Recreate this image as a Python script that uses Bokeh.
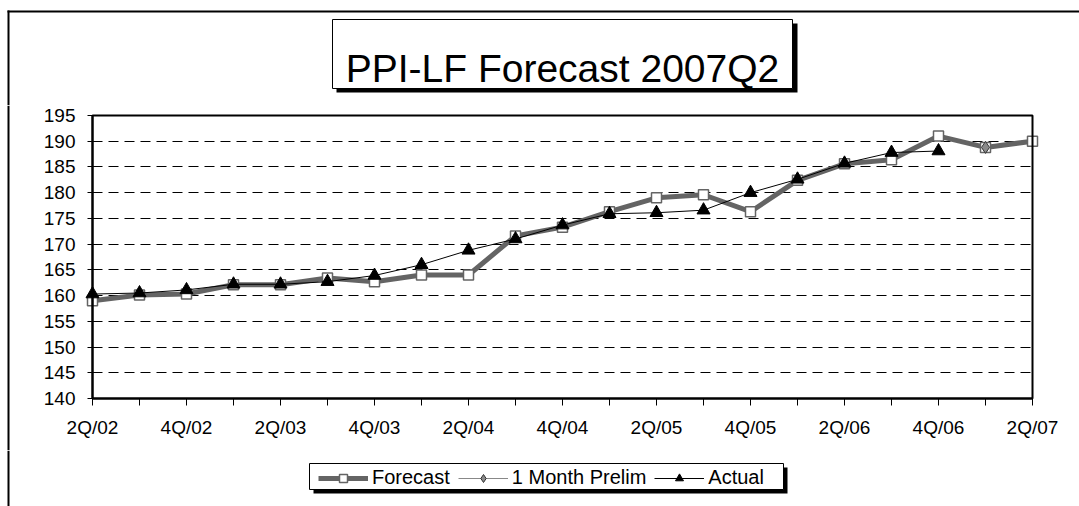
from bokeh.plotting import figure
from bokeh.layouts import column
from bokeh.models import (FixedTicker, Legend, LegendItem, BoxAnnotation, Label, Range1d)
from bokeh.embed import file_html
from bokeh.resources import INLINE

quarters = ["2Q/02", "3Q/02", "4Q/02", "1Q/03", "2Q/03", "3Q/03", "4Q/03",
            "1Q/04", "2Q/04", "3Q/04", "4Q/04", "1Q/05", "2Q/05", "3Q/05",
            "4Q/05", "1Q/06", "2Q/06", "3Q/06", "4Q/06", "1Q/07", "2Q/07"]
forecast = [159.0, 160.1, 160.3, 162.1, 162.1, 163.4, 162.7, 164.0, 164.0,
            171.6, 173.3, 176.3, 179.0, 179.6, 176.3, 182.4, 185.6, 186.4,
            191.0, 188.8, 190.0]
actual = [160.3, 160.5, 161.1, 162.2, 162.2, 162.7, 163.9, 166.0, 168.8,
          171.0, 173.7, 175.9, 176.1, 176.6, 180.0, 182.6, 185.7, 187.8, 188.1]
prelim_x = ["1Q/07"]
prelim = [188.8]
y_ticks = [140, 145, 150, 155, 160, 165, 170, 175, 180, 185, 190, 195]
title_text = "PPI-LF Forecast 2007Q2"
legend_labels = ["Forecast", "1 Month Prelim", "Actual"]

xf = list(range(len(forecast)))
xa = list(range(len(actual)))
xp = [quarters.index(q) for q in prelim_x]

FONT = "Liberation Sans"
FC_COLOR = "#646464"


def blank_fig(w, h, y0, y1, bg="white"):
    f = figure(width=w, height=h, frame_width=w, frame_height=h,
               x_range=Range1d(0, w), y_range=Range1d(y1, y0),
               x_axis_type=None, y_axis_type=None,
               output_backend="svg", toolbar_location=None,
               min_border=0, min_border_left=0, min_border_right=0,
               min_border_top=0, min_border_bottom=0)
    f.title.visible = False
    f.outline_line_color = None
    f.background_fill_color = bg
    f.border_fill_color = bg
    f.grid.visible = False
    return f


def box(f, l, r, t, b, fill, line=None, lw=1):
    f.add_layout(BoxAnnotation(left=l, right=r, top=t, bottom=b,
                               fill_color=fill, fill_alpha=1,
                               line_color=line, line_width=lw, line_alpha=1 if line else 0))


# ---------- top strip: outer border + title ----------
top = blank_fig(1079, 105, 0, 105)
box(top, 7, 1079, 10, 12, "black")
box(top, 7, 9, 10, 105, "black")
box(top, 336, 797, 23, 92, "black")
box(top, 332, 792, 19, 88, "white", "black", 1)
top.add_layout(Label(x=562, y=68, text=title_text, text_font=FONT,
                     text_font_size="39px", text_align="center",
                     text_baseline="alphabetic", text_color="black"))

# ---------- main chart (frame covers the whole strip; axes fixed at data origin) ----------
W, H = 1079, 345
PL, PR, PT, PB = 92, 1032, 10, 293          # plot-area pixel box inside this strip
NQ = len(quarters) - 1
ymin, ymax = y_ticks[0], y_ticks[-1]
sx = (PR - PL) / NQ
sy = (PB - PT) / (ymax - ymin)
x_lo, x_hi = -PL / sx, NQ + (W - PR) / sx
y_lo, y_hi = ymin - (H - PB) / sy, ymax + PT / sy

p = figure(width=W, height=H, frame_width=W, frame_height=H,
           output_backend="svg", toolbar_location=None,
           x_range=Range1d(x_lo, x_hi), y_range=Range1d(y_lo, y_hi),
           min_border=0, min_border_left=0, min_border_right=0,
           min_border_top=0, min_border_bottom=0)
p.title.visible = False
p.background_fill_color = "white"
p.border_fill_color = "white"
p.outline_line_color = None

p.xaxis.ticker = FixedTicker(ticks=list(range(len(quarters))))
p.xaxis.major_label_overrides = {i: (q if i % 2 == 0 else "") for i, q in enumerate(quarters)}
p.yaxis.ticker = FixedTicker(ticks=y_ticks)
p.xaxis.fixed_location = ymin
p.yaxis.fixed_location = 0
p.xaxis.bounds = (0, NQ)
p.yaxis.bounds = (ymin, ymax)
for ax in (p.xaxis, p.yaxis):
    ax.axis_line_color = "black"
    ax.axis_line_width = 2
    ax.major_tick_line_color = "black"
    ax.major_tick_line_width = 1
    ax.minor_tick_line_color = None
    ax.major_label_text_font = FONT
    ax.major_label_text_font_size = "19px"
    ax.major_label_text_color = "black"
p.xaxis.major_tick_out = 7
p.xaxis.major_tick_in = 0
p.xaxis.major_label_standoff = 11
p.yaxis.major_tick_out = 5
p.yaxis.major_tick_in = 0
p.yaxis.major_label_standoff = 12

p.xgrid.grid_line_color = None
p.ygrid.grid_line_color = "black"
p.ygrid.grid_line_dash = "10 6"
p.ygrid.grid_line_width = 1
try:
    p.ygrid.cross_bounds = (0, NQ)
except Exception:
    p.ygrid.grid_line_color = None
    p.segment(x0=0, x1=NQ, y0=y_ticks, y1=y_ticks, line_color="black",
              line_dash="10 6", line_width=1)

# plot-area frame (top/right edges)
p.add_layout(BoxAnnotation(left=0, right=NQ, bottom=ymin, top=ymax,
                           fill_alpha=0, line_color="black", line_alpha=1,
                           line_width=2))
# outer chart border rule on the left, drawn as a quad glyph
p.quad(left=[(7 - PL) / sx], right=[(9 - PL) / sx], bottom=[y_lo], top=[y_hi],
       fill_color="black", line_color=None)

p.line(xf, forecast, line_color=FC_COLOR, line_width=5)
p.scatter(xf, forecast, marker="square", size=10, fill_color="white",
          line_color=FC_COLOR, line_width=1.5)
p.line(xa, actual, line_color="black", line_width=1)
p.scatter(xa, actual, marker="triangle", size=13, fill_color="black",
          line_color="black")
p.line(xp, prelim, line_color="#888888", line_width=1)
p.scatter(xp, prelim, marker="diamond", size=12, fill_color="#8a8a8a",
          line_color="#333333", line_width=1)

# ---------- bottom strip: legend ----------
bot = blank_fig(1079, 56, 450, 506)
box(bot, 7, 9, 450, 506, "black")
box(bot, 313, 787, 467, 493, "black")
box(bot, 309, 783, 463, 489, "white", "black", 1)

# legend-only renderers (same series; their values fall outside this strip's ranges)
r_fl = bot.line(xf, forecast, line_color=FC_COLOR, line_width=5)
r_fs = bot.scatter(xf, forecast, marker="square", size=10, fill_color="white",
                   line_color=FC_COLOR, line_width=1.5)
r_pl = bot.line(xp, prelim, line_color="#888888", line_width=1)
r_ps = bot.scatter(xp, prelim, marker="diamond", size=10, fill_color="#8a8a8a",
                   line_color="#333333", line_width=1)
r_al = bot.line(xa, actual, line_color="black", line_width=1)
r_as = bot.scatter(xa, actual, marker="triangle", size=10, fill_color="black",
                   line_color="black")

legend = Legend(items=[LegendItem(label=legend_labels[0], renderers=[r_fl, r_fs]),
                       LegendItem(label=legend_labels[1], renderers=[r_pl, r_ps]),
                       LegendItem(label=legend_labels[2], renderers=[r_al, r_as])],
                orientation="horizontal", location=(318, 17),
                label_text_font=FONT, label_text_font_size="20px",
                label_text_color="black", glyph_width=50, glyph_height=20,
                label_height=20, label_standoff=4, spacing=8, padding=3,
                margin=0, border_line_color=None, background_fill_alpha=0)
bot.add_layout(legend)

layout = column(top, p, bot)
open("out.html", "w").write(file_html(layout, INLINE))
